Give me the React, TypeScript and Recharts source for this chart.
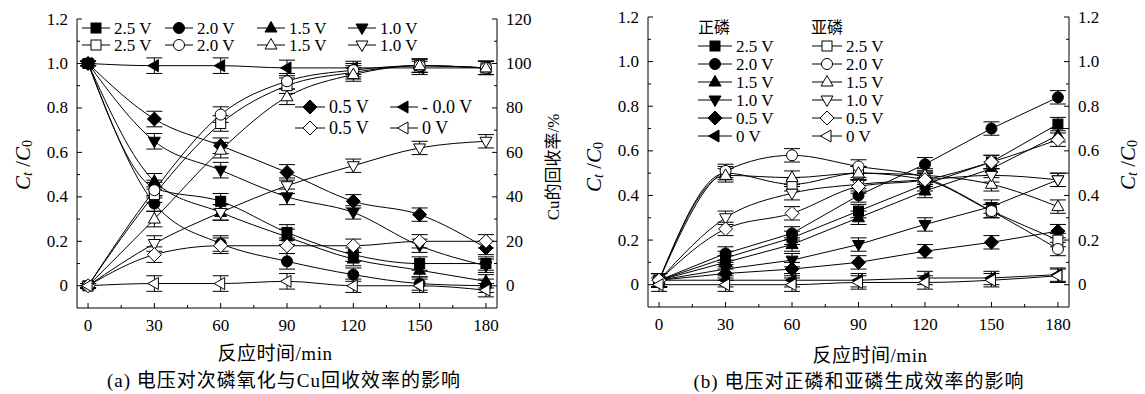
import { ComposedChart, ErrorBar, Line, XAxis, YAxis } from "recharts";

// time axis (min)
const times = [0, 30, 60, 90, 120, 150, 180];
const xTicks = [0, 15, 30, 45, 60, 75, 90, 105, 120, 135, 150, 165, 180];
const ratioTicks = [0, 0.1, 0.2, 0.3, 0.4, 0.5, 0.6, 0.7, 0.8, 0.9, 1.0, 1.1, 1.2];
const cuTicks = [0, 10, 20, 30, 40, 50, 60, 70, 80, 90, 100, 110, 120];

// (a) hypophosphite C_t/C_0 (filled, left axis)
const aH25 = [1.0, 0.44, 0.38, 0.24, 0.14, 0.1, 0.1];
const aH20 = [1.0, 0.37, 0.19, 0.11, 0.05, 0.01, 0.0];
const aH15 = [1.0, 0.47, 0.33, 0.22, 0.12, 0.07, 0.02];
const aH10 = [1.0, 0.65, 0.52, 0.4, 0.33, 0.18, 0.09];
const aH05 = [1.0, 0.75, 0.63, 0.51, 0.38, 0.32, 0.17];
const aH00 = [1.0, 0.99, 0.99, 0.98, 0.98, 0.98, 0.98];
// (a) Cu recovery % (open, right axis)
const aC25 = [0, 41, 73, 90, 96, 99, 98];
const aC20 = [0, 43, 77, 92, 97, 99, 98];
const aC15 = [0, 30, 61, 85, 95, 99, 98];
const aC10 = [0, 19, 33, 45, 54, 62, 65];
const aC05 = [0, 14, 18, 18, 18, 20, 20];
const aC00 = [0, 1, 1, 2, 0, 0, -2];
const aErrH = [0.01, 0.035, 0.035, 0.035, 0.03, 0.03, 0.03];
const aErrC = [1, 3.5, 3.5, 3.5, 3, 3, 3];

// (b) orthophosphate (filled) and phosphite (open), C_t/C_0
const bO25 = [0.02, 0.12, 0.21, 0.33, 0.45, 0.55, 0.72];
const bO20 = [0.02, 0.14, 0.23, 0.4, 0.54, 0.7, 0.84];
const bO15 = [0.02, 0.1, 0.18, 0.3, 0.42, 0.52, 0.67];
const bO10 = [0.02, 0.07, 0.11, 0.18, 0.27, 0.35, 0.47];
const bO05 = [0.02, 0.05, 0.07, 0.1, 0.15, 0.19, 0.24];
const bO00 = [0.02, 0.02, 0.02, 0.02, 0.03, 0.03, 0.045];
const bP25 = [0.02, 0.5, 0.45, 0.5, 0.47, 0.33, 0.2];
const bP20 = [0.02, 0.51, 0.58, 0.53, 0.48, 0.33, 0.16];
const bP15 = [0.02, 0.49, 0.48, 0.5, 0.49, 0.45, 0.35];
const bP10 = [0.02, 0.3, 0.41, 0.45, 0.47, 0.49, 0.47];
const bP05 = [0.02, 0.25, 0.32, 0.44, 0.47, 0.55, 0.65];
const bP00 = [0.0, 0.0, 0.0, 0.01, 0.01, 0.02, 0.04];
const bErr = [0.03, 0.03, 0.03, 0.03, 0.03, 0.03, 0.03];

const FONT = "Liberation Serif, Times New Roman, Tinos, Nimbus Roman, DejaVu Serif, Noto Sans CJK SC, serif";

const rowsA = times.map((t, i) => ({
  t, h25: aH25[i], h20: aH20[i], h15: aH15[i], h10: aH10[i], h05: aH05[i], h00: aH00[i],
  c25: aC25[i], c20: aC20[i], c15: aC15[i], c10: aC10[i], c05: aC05[i], c00: aC00[i],
  eh: aErrH[i], ec: aErrC[i],
}));
const rowsB = times.map((t, i) => ({
  t, o25: bO25[i], o20: bO20[i], o15: bO15[i], o10: bO10[i], o05: bO05[i], o00: bO00[i],
  p25: bP25[i], p20: bP20[i], p15: bP15[i], p10: bP10[i], p05: bP05[i], p00: bP00[i],
  e: bErr[i],
}));

type Shape = "square" | "circle" | "up" | "down" | "diamond" | "left";
const shapes: Shape[] = ["square", "circle", "up", "down", "diamond", "left"];

function Marker({ x, y, shape, filled }: { x: number; y: number; shape: Shape; filled: boolean }) {
  const p = { fill: filled ? "#000" : "#fff", stroke: "#000", strokeWidth: 1 };
  if (x == null || y == null || isNaN(x) || isNaN(y)) return null;
  switch (shape) {
    case "square": return <rect x={x - 5} y={y - 5} width={10} height={10} {...p} />;
    case "circle": return <circle cx={x} cy={y} r={5.5} {...p} />;
    case "up": return <polygon points={`${x},${y - 6.5} ${x + 6},${y + 4} ${x - 6},${y + 4}`} {...p} />;
    case "down": return <polygon points={`${x},${y + 6.5} ${x + 6},${y - 4} ${x - 6},${y - 4}`} {...p} />;
    case "diamond": return <polygon points={`${x},${y - 7} ${x + 7},${y} ${x},${y + 7} ${x - 7},${y}`} {...p} />;
    default: return <polygon points={`${x - 6.5},${y} ${x + 4},${y - 6} ${x + 4},${y + 6}`} {...p} />;
  }
}

const XTick = ({ x, y, payload }: any) => {
  const v = payload.value;
  const major = v % 30 === 0;
  return (
    <g>
      <line x1={x} x2={x} y1={y} y2={y - (major ? 5 : 3)} stroke="#000" />
      {major && <text x={x} y={y + 17} textAnchor="middle" dominantBaseline="central" fontSize={17} fontFamily={FONT}>{v}</text>}
    </g>
  );
};

const YTick = ({ x, y, payload, side, pct }: any) => {
  const v = payload.value;
  const major = pct ? v % 20 === 0 : Math.round(v * 10) % 2 === 0;
  const d = side === "left" ? 1 : -1;
  const label = pct ? String(v) : v === 0 ? "0" : v.toFixed(1);
  return (
    <g>
      <line x1={x} x2={x + d * (major ? 5 : 3)} y1={y} y2={y} stroke="#000" />
      {major && (
        <text x={x - d * 9} y={y} textAnchor={side === "left" ? "end" : "start"} dominantBaseline="central" fontSize={17} fontFamily={FONT}>{label}</text>
      )}
    </g>
  );
};

function series(key: string, shape: Shape, filled: boolean, yAxisId: string, errKey: string, type: any) {
  return (
    <Line key={key} dataKey={key} yAxisId={yAxisId} type={type} stroke="#000" strokeWidth={1}
      isAnimationActive={false} activeDot={false}
      dot={(p: any) => <Marker key={`${key}-${p.index}`} x={p.cx} y={p.cy} shape={shape} filled={filled} />}>
      <ErrorBar dataKey={errKey} width={8} stroke="#000" strokeWidth={1} direction="y" isAnimationActive={false} />
    </Line>
  );
}

const frameAxes = (right: "pct" | "ratio") => [
  <XAxis key="x" dataKey="t" type="number" domain={[-5, 185]} ticks={xTicks} interval={0} allowDataOverflow
    height={30} tickSize={0} tickMargin={0} tickLine={false} axisLine={{ stroke: "#000" }} tick={(p: any) => <XTick {...p} />} />,
  <XAxis key="xt" xAxisId="top" orientation="top" dataKey="t" type="number" domain={[-5, 185]} height={0}
    tick={false} tickLine={false} axisLine={{ stroke: "#000" }} />,
  <YAxis key="yl" yAxisId="l" type="number" domain={[-0.1, 1.2]} ticks={ratioTicks} interval={0} allowDataOverflow
    width={50} tickSize={0} tickMargin={0} tickLine={false} axisLine={{ stroke: "#000" }}
    tick={(p: any) => <YTick {...p} side="left" />} />,
  <YAxis key="yr" yAxisId="r" orientation="right" type="number"
    domain={right === "pct" ? [-10, 120] : [-0.1, 1.2]} ticks={right === "pct" ? cuTicks : ratioTicks}
    interval={0} allowDataOverflow width={50} tickSize={0} tickMargin={0} tickLine={false} axisLine={{ stroke: "#000" }}
    tick={(p: any) => <YTick {...p} side="right" pct={right === "pct"} />} />,
];

function LegendItem({ x, y, shape, filled, label, len = 28, size = 17 }: any) {
  return (
    <g>
      <line x1={x} x2={x + len} y1={y} y2={y} stroke="#000" />
      <Marker x={x + len / 2} y={y} shape={shape} filled={filled} />
      <text x={x + len + 4} y={y} dominantBaseline="central" fontSize={size} fontFamily={FONT}>{label}</text>
    </g>
  );
}

function CtC0({ x, y }: { x: number; y: number }) {
  return (
    <text transform={`translate(${x},${y}) rotate(-90)`} textAnchor="middle" dominantBaseline="central" fontSize={21} fontFamily={FONT}>
      <tspan fontStyle="italic">C</tspan>
      <tspan fontStyle="italic" fontSize={14} dy={4}>t</tspan>
      <tspan dy={-4}> /</tspan>
      <tspan fontStyle="italic">C</tspan>
      <tspan fontSize={14} dy={4}>0</tspan>
    </text>
  );
}

const voltLabels = ["2.5 V", "2.0 V", "1.5 V", "1.0 V", "0.5 V", "0 V"];

export default function App() {
  const keysA = ["25", "20", "15", "10", "05", "00"];
  return (
    <div style={{ position: "absolute", left: 0, top: 0, width: 1145, height: 394, background: "#fff", fontFamily: FONT }}>
      <div style={{ position: "absolute", left: 0, top: 0 }}>
        <ComposedChart width={570} height={340} data={rowsA} margin={{ top: 19, right: 23, left: 27, bottom: 2 }}>
          {frameAxes("pct")}
          {keysA.map((k, i) => series("h" + k, shapes[i], true, "l", "eh", "monotone"))}
          {keysA.map((k, i) => series("c" + k, shapes[i], false, "r", "ec", "monotone"))}
        </ComposedChart>
      </div>
      <div style={{ position: "absolute", left: 575, top: 0 }}>
        <ComposedChart width={570} height={340} data={rowsB} margin={{ top: 17, right: 26, left: 23, bottom: 3 }}>
          {frameAxes("ratio")}
          {keysA.map((k, i) => series("o" + k, shapes[i], true, "l", "e", "linear"))}
          {keysA.map((k, i) => series("p" + k, shapes[i], false, "l", "e", "monotone"))}
        </ComposedChart>
      </div>
      <svg width={1145} height={394} style={{ position: "absolute", left: 0, top: 0, pointerEvents: "none" }}>
        {/* panel a legend */}
        {[82, 165, 257, 348].map((x, i) => (
          <g key={"la" + i}>
            <LegendItem x={x} y={28} shape={shapes[i]} filled label={voltLabels[i]} />
            <LegendItem x={x} y={45} shape={shapes[i]} filled={false} label={voltLabels[i]} />
          </g>
        ))}
        <LegendItem x={295} y={107} shape="diamond" filled label="0.5 V" len={30} size={18} />
        <LegendItem x={295} y={128} shape="diamond" filled={false} label="0.5 V" len={30} size={18} />
        <LegendItem x={390} y={107} shape="left" filled label="- 0.0 V" size={18} />
        <LegendItem x={390} y={128} shape="left" filled={false} label="0 V" size={18} />
        {/* panel b legend */}
        <text x={698} y={27} dominantBaseline="central" fontSize={16} fontFamily={FONT}>正磷</text>
        <text x={811} y={27} dominantBaseline="central" fontSize={16} fontFamily={FONT}>亚磷</text>
        {voltLabels.map((lab, i) => (
          <g key={"lb" + i}>
            <LegendItem x={698} y={46 + i * 18} shape={shapes[i]} filled label={lab} len={34} />
            <LegendItem x={812} y={46 + i * 18} shape={shapes[i]} filled={false} label={lab} len={30} />
          </g>
        ))}
        {/* axis titles */}
        <CtC0 x={23} y={165} />
        <text transform="translate(553,167) rotate(-90)" textAnchor="middle" dominantBaseline="central" fontSize={17} fontFamily={FONT}>Cu的回收率/%</text>
        <CtC0 x={594} y={167} />
        <CtC0 x={1128} y={165} />
        <text x={275} y={353} textAnchor="middle" dominantBaseline="central" fontSize={19} letterSpacing={0.5} fontFamily={FONT}>反应时间/min</text>
        <text x={870} y={355} textAnchor="middle" dominantBaseline="central" fontSize={19} letterSpacing={0.5} fontFamily={FONT}>反应时间/min</text>
        <text x={284} y={380} textAnchor="middle" dominantBaseline="central" fontSize={19} letterSpacing={1} fontFamily={FONT}>(a) 电压对次磷氧化与Cu回收效率的影响</text>
        <text x={859} y={381} textAnchor="middle" dominantBaseline="central" fontSize={19} letterSpacing={1} fontFamily={FONT}>(b) 电压对正磷和亚磷生成效率的影响</text>
      </svg>
    </div>
  );
}
